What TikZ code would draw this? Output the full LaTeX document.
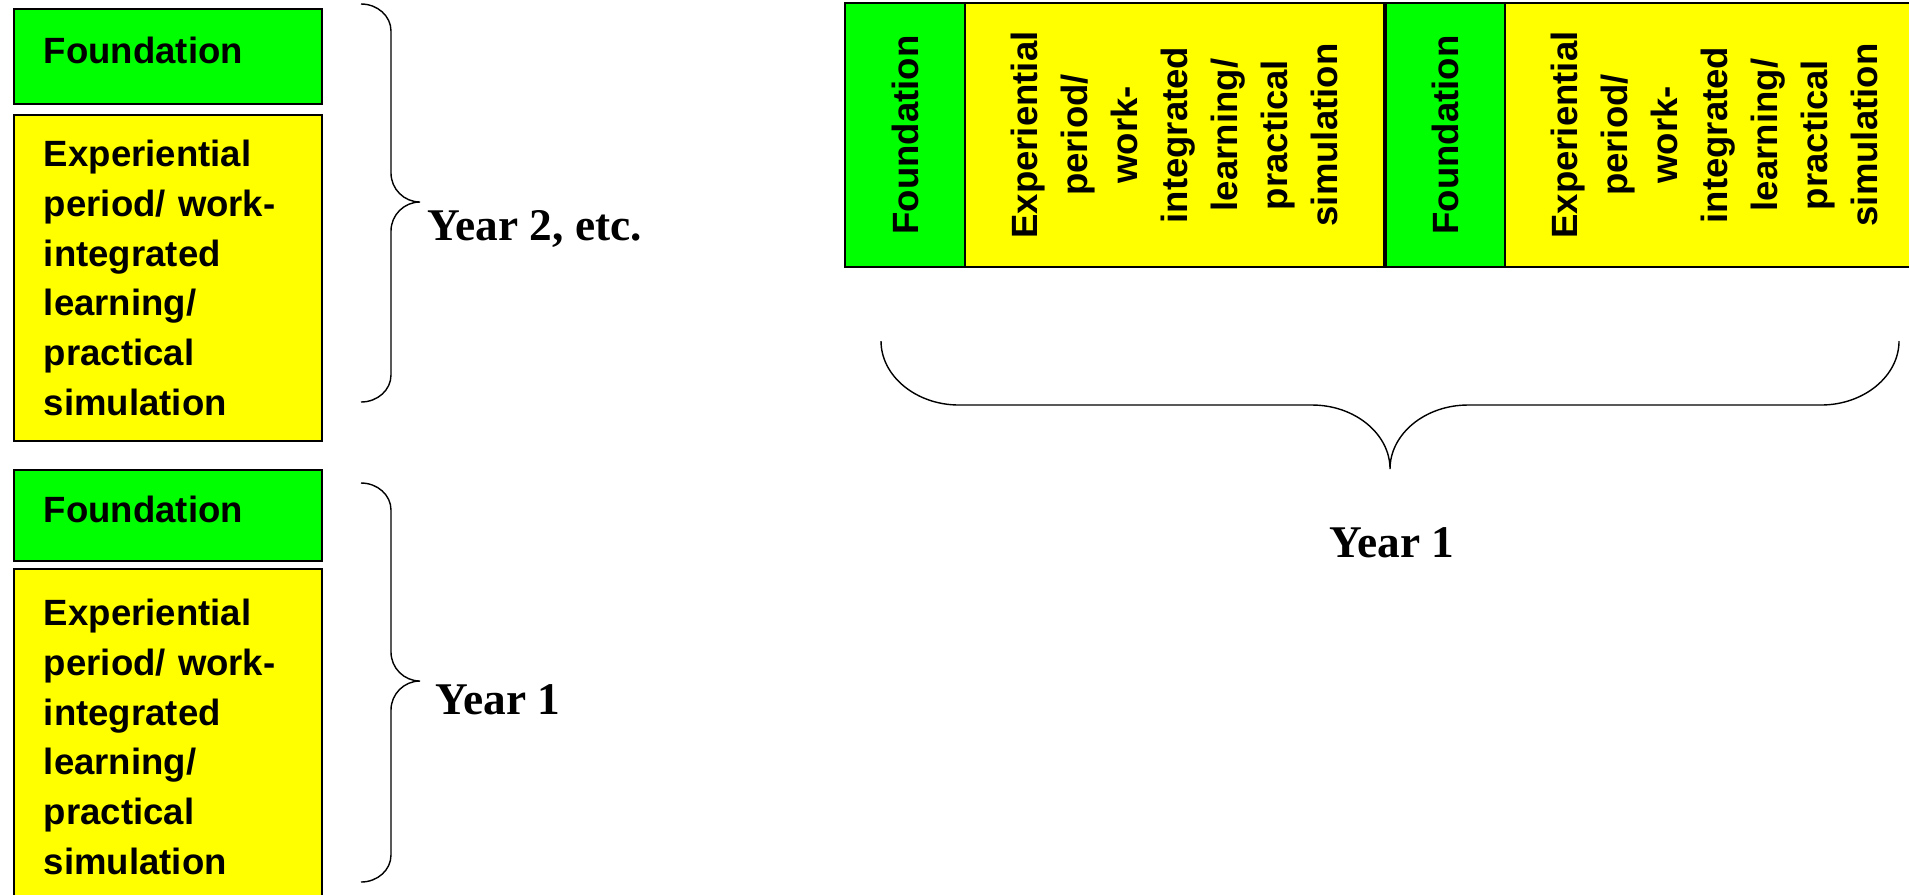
\documentclass[tikz,border=0pt]{standalone}
\usepackage{fontspec}
\newfontfamily\arialfam{Liberation Sans}
\newfontfamily\timesfam{Liberation Serif}
\usepackage{tikz}
\usetikzlibrary{positioning}

\definecolor{fgreen}{RGB}{0,255,0}
\definecolor{fyellow}{RGB}{255,255,0}
\newcommand{\boxfont}{\arialfam\bfseries\fontsize{10.4pt}{14.2pt}\selectfont}
\newcommand{\yearfont}{\timesfam\bfseries\fontsize{12.9pt}{15pt}\selectfont}

\tikzset{
  blk/.style={draw=black, line width=0.55pt, inner sep=0pt, font=\boxfont},
  fnd/.style={blk, fill=fgreen},
  exper/.style={blk, fill=fyellow},
  hcell/.style={minimum width=3.08cm, inner xsep=0.3cm, text width=2.48cm, align=left},
  vcell/.style={rotate=90, minimum width=2.64cm, align=center},
  brc/.style={line width=0.4pt},
  yr/.style={font=\yearfont, inner sep=0pt}
}

\begin{document}
\begin{tikzpicture}
\useasboundingbox (0,0) rectangle (19.09,-8.94);
\clip (0,0) rectangle (19.09,-8.94);

% stacked years, left
\node[fnd, hcell, minimum height=0.95cm, text height=0.27cm, text depth=0.12cm, anchor=north west] (fa) at (0.13,-0.08) {Foundation};
\node[exper, hcell, minimum height=3.26cm, below=0.09cm of fa] (ea) {Experiential\\period/ work-\\integrated\\learning/\\practical\\simulation};
\node[fnd, hcell, minimum height=0.91cm, text height=0.27cm, text depth=0.12cm, anchor=north west] (fb) at (0.13,-4.69) {Foundation};
\node[exper, hcell, minimum height=3.36cm, below=0.06cm of fb] (eb) {Experiential\\period/ work-\\integrated\\learning/\\practical\\simulation};

\draw[brc] (3.61,-0.04) .. controls (3.775,-0.04) and (3.91,-0.16) .. (3.91,-0.31) -- (3.91,-1.73)
  .. controls (3.91,-1.89) and (4.04,-2.02) .. (4.20,-2.02)
  .. controls (4.04,-2.02) and (3.91,-2.15) .. (3.91,-2.31) -- (3.91,-3.75)
  .. controls (3.91,-3.90) and (3.775,-4.02) .. (3.61,-4.02);
\draw[brc] (3.61,-4.83) .. controls (3.775,-4.83) and (3.91,-4.95) .. (3.91,-5.10) -- (3.91,-6.52)
  .. controls (3.91,-6.68) and (4.04,-6.81) .. (4.20,-6.81)
  .. controls (4.04,-6.81) and (3.91,-6.94) .. (3.91,-7.10) -- (3.91,-8.55)
  .. controls (3.91,-8.70) and (3.775,-8.82) .. (3.61,-8.82);

\node[yr, anchor=base west] (y2) at (4.27,-2.40) {Year 2, etc.};
\node[yr, anchor=base west] (y1a) at (4.35,-7.14) {Year 1};

% one year, side by side
\node[fnd, vcell, minimum height=1.20cm] (fc) at (9.05,-1.35) {Foundation};
\node[exper, vcell, minimum height=4.19cm] (ec) at (11.745,-1.35) {Experiential\\period/\\work-\\integrated\\learning/\\practical\\simulation};
\node[fnd, vcell, minimum height=1.19cm] (fd) at (14.455,-1.35) {Foundation};
\node[exper, vcell, minimum height=4.19cm] (ed) at (17.145,-1.35) {Experiential\\period/\\work-\\integrated\\learning/\\practical\\simulation};

\draw[brc] (8.81,-3.41) .. controls (8.81,-3.76) and (9.16,-4.05) .. (9.59,-4.05) -- (13.12,-4.05)
  .. controls (13.55,-4.05) and (13.90,-4.34) .. (13.90,-4.69)
  .. controls (13.90,-4.34) and (14.25,-4.05) .. (14.68,-4.05) -- (18.21,-4.05)
  .. controls (18.64,-4.05) and (18.99,-3.76) .. (18.99,-3.41);

\node[yr, anchor=base] (y1b) at (13.92,-5.57) {Year 1};
\end{tikzpicture}
\end{document}
